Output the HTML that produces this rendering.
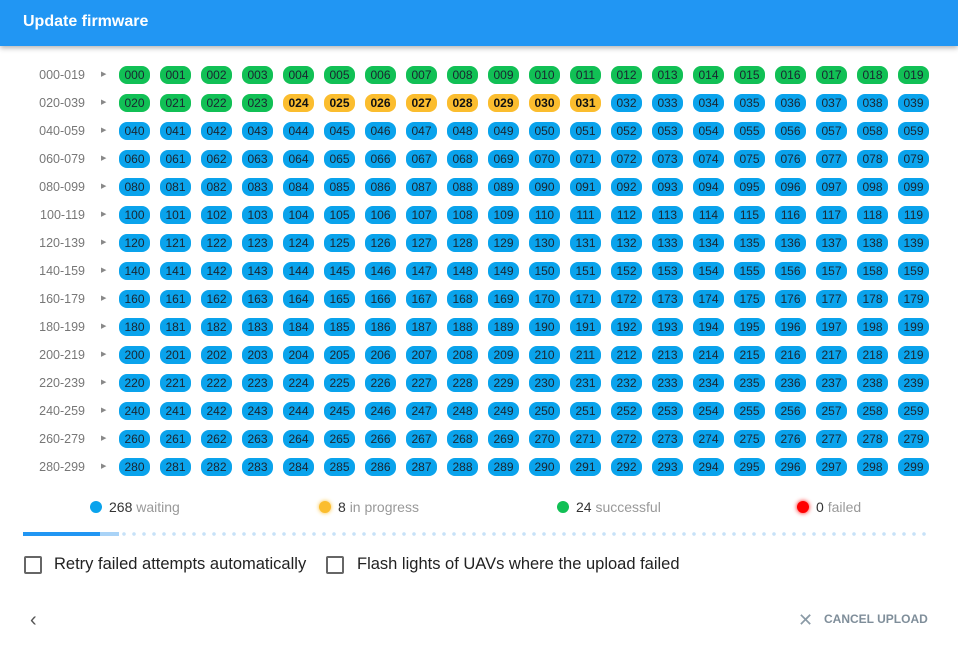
<!DOCTYPE html>
<html><head><meta charset="utf-8"><style>
body{margin:0;width:958px;height:646px;background:#fff;font-family:"Liberation Sans",sans-serif;position:relative;overflow:hidden}
.hd{position:absolute;left:0;top:0;width:958px;height:46px;background:#2196f3;box-shadow:0 2px 5px rgba(0,0,0,.3)}
.hd span{position:absolute;left:23px;top:13px;color:#fff;font-size:16px;font-weight:bold}
.r{position:absolute;left:0;height:18px;width:958px}
.l{position:absolute;left:20px;width:65px;text-align:right;top:2px;font-size:12.5px;color:#777}
.a{position:absolute;left:101px;top:4px;font-size:7px;color:#888}
.p{position:absolute;left:119px;top:0;display:flex}
.p b{display:block;width:31px;height:18px;margin-right:10px;border-radius:8px;background:#0aa3ec;font-weight:normal;font-size:12px;line-height:18px;text-align:center;color:#1a2530}
.p b.g{background:#11c055}.p b.y{background:#fbbd2e;font-weight:bold;color:#111}
.lg{position:absolute;top:499px;font-size:14px;color:#333}
.lg i{display:inline-block;width:12px;height:12px;border-radius:50%;vertical-align:-1px;margin-right:7px}
.lg em{font-style:normal;color:#999}
.bar{position:absolute;top:532px;height:4px}
.cb{position:absolute;top:556px;width:14px;height:14px;border:2px solid #666;border-radius:2px}
.ct{position:absolute;top:555px;font-size:16.5px;color:#222}
</style></head><body>
<div class="hd"><span>Update firmware</span></div>
<div class="r" style="top:66px"><span class="l">000-019</span><span class="a">▶</span><div class="p"><b class=g>000</b><b class=g>001</b><b class=g>002</b><b class=g>003</b><b class=g>004</b><b class=g>005</b><b class=g>006</b><b class=g>007</b><b class=g>008</b><b class=g>009</b><b class=g>010</b><b class=g>011</b><b class=g>012</b><b class=g>013</b><b class=g>014</b><b class=g>015</b><b class=g>016</b><b class=g>017</b><b class=g>018</b><b class=g>019</b></div></div>
<div class="r" style="top:94px"><span class="l">020-039</span><span class="a">▶</span><div class="p"><b class=g>020</b><b class=g>021</b><b class=g>022</b><b class=g>023</b><b class=y>024</b><b class=y>025</b><b class=y>026</b><b class=y>027</b><b class=y>028</b><b class=y>029</b><b class=y>030</b><b class=y>031</b><b>032</b><b>033</b><b>034</b><b>035</b><b>036</b><b>037</b><b>038</b><b>039</b></div></div>
<div class="r" style="top:122px"><span class="l">040-059</span><span class="a">▶</span><div class="p"><b>040</b><b>041</b><b>042</b><b>043</b><b>044</b><b>045</b><b>046</b><b>047</b><b>048</b><b>049</b><b>050</b><b>051</b><b>052</b><b>053</b><b>054</b><b>055</b><b>056</b><b>057</b><b>058</b><b>059</b></div></div>
<div class="r" style="top:150px"><span class="l">060-079</span><span class="a">▶</span><div class="p"><b>060</b><b>061</b><b>062</b><b>063</b><b>064</b><b>065</b><b>066</b><b>067</b><b>068</b><b>069</b><b>070</b><b>071</b><b>072</b><b>073</b><b>074</b><b>075</b><b>076</b><b>077</b><b>078</b><b>079</b></div></div>
<div class="r" style="top:178px"><span class="l">080-099</span><span class="a">▶</span><div class="p"><b>080</b><b>081</b><b>082</b><b>083</b><b>084</b><b>085</b><b>086</b><b>087</b><b>088</b><b>089</b><b>090</b><b>091</b><b>092</b><b>093</b><b>094</b><b>095</b><b>096</b><b>097</b><b>098</b><b>099</b></div></div>
<div class="r" style="top:206px"><span class="l">100-119</span><span class="a">▶</span><div class="p"><b>100</b><b>101</b><b>102</b><b>103</b><b>104</b><b>105</b><b>106</b><b>107</b><b>108</b><b>109</b><b>110</b><b>111</b><b>112</b><b>113</b><b>114</b><b>115</b><b>116</b><b>117</b><b>118</b><b>119</b></div></div>
<div class="r" style="top:234px"><span class="l">120-139</span><span class="a">▶</span><div class="p"><b>120</b><b>121</b><b>122</b><b>123</b><b>124</b><b>125</b><b>126</b><b>127</b><b>128</b><b>129</b><b>130</b><b>131</b><b>132</b><b>133</b><b>134</b><b>135</b><b>136</b><b>137</b><b>138</b><b>139</b></div></div>
<div class="r" style="top:262px"><span class="l">140-159</span><span class="a">▶</span><div class="p"><b>140</b><b>141</b><b>142</b><b>143</b><b>144</b><b>145</b><b>146</b><b>147</b><b>148</b><b>149</b><b>150</b><b>151</b><b>152</b><b>153</b><b>154</b><b>155</b><b>156</b><b>157</b><b>158</b><b>159</b></div></div>
<div class="r" style="top:290px"><span class="l">160-179</span><span class="a">▶</span><div class="p"><b>160</b><b>161</b><b>162</b><b>163</b><b>164</b><b>165</b><b>166</b><b>167</b><b>168</b><b>169</b><b>170</b><b>171</b><b>172</b><b>173</b><b>174</b><b>175</b><b>176</b><b>177</b><b>178</b><b>179</b></div></div>
<div class="r" style="top:318px"><span class="l">180-199</span><span class="a">▶</span><div class="p"><b>180</b><b>181</b><b>182</b><b>183</b><b>184</b><b>185</b><b>186</b><b>187</b><b>188</b><b>189</b><b>190</b><b>191</b><b>192</b><b>193</b><b>194</b><b>195</b><b>196</b><b>197</b><b>198</b><b>199</b></div></div>
<div class="r" style="top:346px"><span class="l">200-219</span><span class="a">▶</span><div class="p"><b>200</b><b>201</b><b>202</b><b>203</b><b>204</b><b>205</b><b>206</b><b>207</b><b>208</b><b>209</b><b>210</b><b>211</b><b>212</b><b>213</b><b>214</b><b>215</b><b>216</b><b>217</b><b>218</b><b>219</b></div></div>
<div class="r" style="top:374px"><span class="l">220-239</span><span class="a">▶</span><div class="p"><b>220</b><b>221</b><b>222</b><b>223</b><b>224</b><b>225</b><b>226</b><b>227</b><b>228</b><b>229</b><b>230</b><b>231</b><b>232</b><b>233</b><b>234</b><b>235</b><b>236</b><b>237</b><b>238</b><b>239</b></div></div>
<div class="r" style="top:402px"><span class="l">240-259</span><span class="a">▶</span><div class="p"><b>240</b><b>241</b><b>242</b><b>243</b><b>244</b><b>245</b><b>246</b><b>247</b><b>248</b><b>249</b><b>250</b><b>251</b><b>252</b><b>253</b><b>254</b><b>255</b><b>256</b><b>257</b><b>258</b><b>259</b></div></div>
<div class="r" style="top:430px"><span class="l">260-279</span><span class="a">▶</span><div class="p"><b>260</b><b>261</b><b>262</b><b>263</b><b>264</b><b>265</b><b>266</b><b>267</b><b>268</b><b>269</b><b>270</b><b>271</b><b>272</b><b>273</b><b>274</b><b>275</b><b>276</b><b>277</b><b>278</b><b>279</b></div></div>
<div class="r" style="top:458px"><span class="l">280-299</span><span class="a">▶</span><div class="p"><b>280</b><b>281</b><b>282</b><b>283</b><b>284</b><b>285</b><b>286</b><b>287</b><b>288</b><b>289</b><b>290</b><b>291</b><b>292</b><b>293</b><b>294</b><b>295</b><b>296</b><b>297</b><b>298</b><b>299</b></div></div>

<div class="lg" style="left:90px"><i style="background:#0aa3ec"></i>268 <em>waiting</em></div>
<div class="lg" style="left:319px"><i style="background:#fbbd2e;box-shadow:0 0 4px #fbbd2e"></i>8 <em>in progress</em></div>
<div class="lg" style="left:557px"><i style="background:#11c055"></i>24 <em>successful</em></div>
<div class="lg" style="left:797px"><i style="background:#f00;box-shadow:0 0 5px #f00"></i>0 <em>failed</em></div>

<div class="bar" style="left:23px;width:77px;background:#2196f3"></div>
<div class="bar" style="left:100px;width:19px;background:#a9d3f7"></div>
<div class="bar" style="left:119px;width:812px;background:radial-gradient(circle,#c7e2f8 1.6px,transparent 2px) 0 0/10px 4px repeat-x"></div>

<div class="cb" style="left:24px"></div><div class="ct" style="left:54px">Retry failed attempts automatically</div>
<div class="cb" style="left:326px"></div><div class="ct" style="left:357px">Flash lights of UAVs where the upload failed</div>

<div style="position:absolute;left:30px;top:609px;font-size:20px;color:#555">‹</div>
<div style="position:absolute;left:798px;top:610px;font-size:18px;color:#8a9aa6">✕</div>
<div style="position:absolute;left:824px;top:612px;font-size:12px;font-weight:bold;color:#7f8e9a">CANCEL UPLOAD</div>
</body></html>
